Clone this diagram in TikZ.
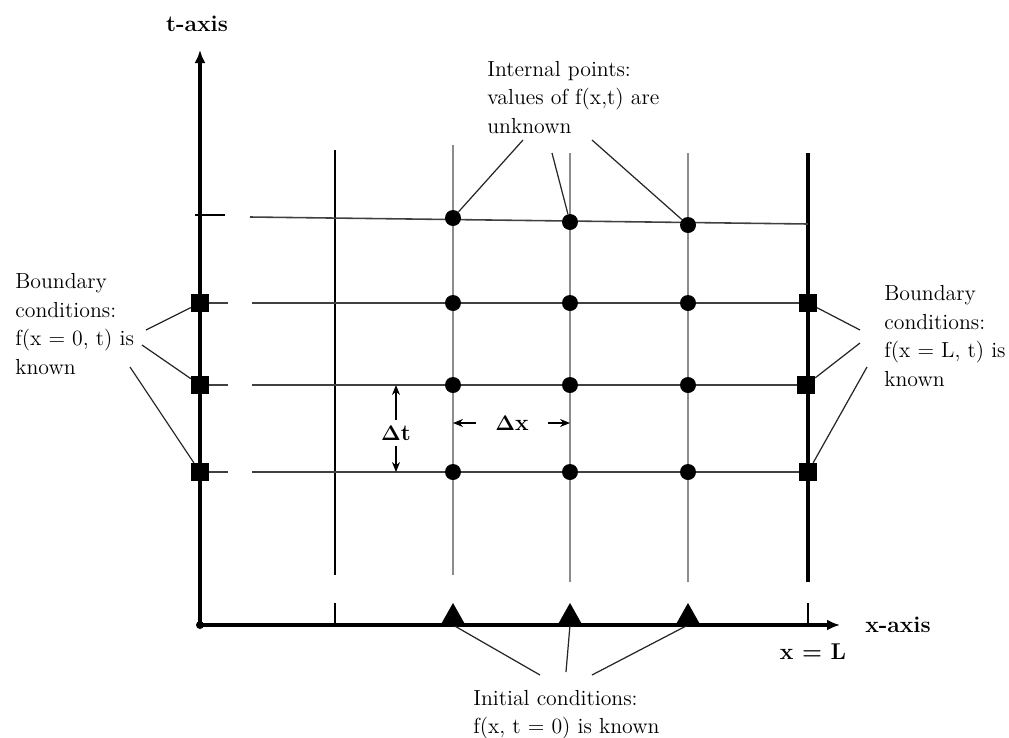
\documentclass[tikz,border=0pt]{standalone}
\usepackage{tikz}
\usetikzlibrary{arrows.meta}

\begin{document}
\begin{tikzpicture}[x=0.02cm, y=-0.02cm,
  axis/.style={line width=2pt, -{Latex[length=2.6mm, width=2.2mm]}},
  grid/.style={line width=0.9pt, black!75},
  vgrid/.style={line width=1pt, black!45},
  tick/.style={line width=0.9pt, black},
  inner/.style={circle, fill=black, inner sep=0pt, minimum size=3.2mm},
  bnd/.style={rectangle, fill=black, inner sep=0pt, minimum size=3.5mm},
  lead/.style={line width=0.7pt, black!85},
  darr/.style={line width=0.7pt, -{Stealth[length=2mm, width=1.6mm]}},
  note/.style={font=\fontsize{12.4}{16.2}\selectfont, align=left, inner sep=0pt},
  axlab/.style={font=\fontsize{13}{16}\selectfont\bfseries, inner sep=0pt},
]
\useasboundingbox (0,0) rectangle (1009,738);

% axes
\coordinate (o) at (200,625);
\coordinate (ttop) at (200,50);
\coordinate (xend) at (840,625);
\draw[axis] (o) -- (ttop);
\draw[axis] (o) -- (xend);
\node[circle, fill, inner sep=0pt, minimum size=1.6mm] (orig) at (o) {};

\node[axlab] (tlab) at (197,24) {t-axis};
\node[axlab] (xlab) at (898,625) {x-axis};
\node[axlab] (xL) at (813,652) {x = L};

% grid lines
\draw[tick] (335,150) -- (335,575);
\draw[vgrid] (453,145) -- (453,575);
\draw[vgrid] (570,153) -- (570,582);
\draw[vgrid] (688,153) -- (688,582);
\draw[line width=2.8pt] (808,153) -- (808,582);
\draw[tick] (335,603) -- (335,625);
\draw[tick] (808,603) -- (808,625);

\draw[tick] (195,215) -- (225,215);
\draw[grid] (250,217) -- (808,224);
\foreach \y in {303,385,472} {
  \draw[grid] (200,\y) -- (228,\y);
  \draw[grid] (252,\y) -- (808,\y);
}

% labels
\node[note, anchor=north west] (ilab) at (487,61)
  {Internal points:\\values of f(x,t) are\\unknown};
\node[note, anchor=west] (llab) at (15,324)
  {Boundary\\conditions:\\f(x = 0, t) is\\known};
\node[note, anchor=west] (rlab) at (884,336)
  {Boundary\\conditions:\\f(x = L, t) is\\known};
\node[note, anchor=north west] (blab) at (473,690)
  {Initial conditions:\\f(x, t = 0) is known};

% leader ends
\coordinate (ia) at (523,140);
\coordinate (ib) at (552,153);
\coordinate (ic) at (592,140);
\coordinate (la) at (146,330);
\coordinate (lb) at (142,345);
\coordinate (lc) at (130,367);
\coordinate (ra) at (860,330);
\coordinate (rb) at (860,343);
\coordinate (rc) at (867,367);
\coordinate (ba) at (540,675);
\coordinate (bb) at (566,672);
\coordinate (bc) at (592,675);

% initial points on the x-axis
\foreach \i/\x in {1/453,2/570,3/688} {
  \coordinate (tr\i) at (\x,625);
  \draw[lead] (tr\i) -- (b\ifcase\i\or a\or b\or c\fi);
  \fill (\x-13,626) -- (\x,603) -- (\x+13,626) -- cycle;
}

% internal points
\node[inner] (q1) at (453,218) {};
\node[inner] (q2) at (570,222) {};
\node[inner] (q3) at (688,225) {};
\foreach \r/\y in {1/303,2/385,3/472}
  \foreach \c/\x in {1/453,2/570,3/688}
    \node[inner] (p\r\c) at (\x,\y) {};

% boundary points
\node[bnd] (ls1) at (200,303) {};
\node[bnd] (ls2) at (200,385) {};
\node[bnd] (ls3) at (200,472) {};
\node[bnd] (rs1) at (808,303) {};
\node[bnd] (rs2) at (806,385) {};
\node[bnd] (rs3) at (808,472) {};

\draw[lead] (ia) -- (q1);
\draw[lead] (ib) -- (q2);
\draw[lead] (ic) -- (q3);
\draw[lead] (la) -- (ls1);
\draw[lead] (lb) -- (ls2);
\draw[lead] (lc) -- (ls3);
\draw[lead] (ra) -- (rs1);
\draw[lead] (rb) -- (rs2);
\draw[lead] (rc) -- (rs3);

% spacings
\node[axlab, inner ysep=3pt] (dt) at (396,433) {$\mathbf{\Delta}$t};
\draw[darr] (dt.north) -- (dt |- p21);
\draw[darr] (dt.south) -- (dt |- p31);
\node[axlab, inner xsep=11pt] (dx) at (512,423) {$\mathbf{\Delta}$x};
\draw[darr] (dx.west) -- (p21 |- dx);
\draw[darr] (dx.east) -- (p22 |- dx);

\end{tikzpicture}
\end{document}
